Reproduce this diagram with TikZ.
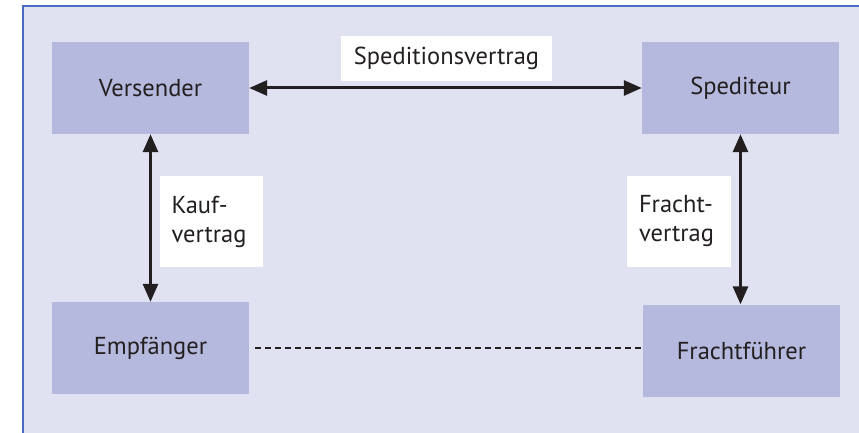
\documentclass[tikz,border=0pt]{standalone}
\usepackage{fontspec}
\setmainfont{PT Sans}
\usetikzlibrary{arrows.meta}
\definecolor{panel}{HTML}{E0E2F2}
\definecolor{boxfill}{HTML}{B6B9DE}
\definecolor{frame}{HTML}{4A6BC0}
\definecolor{ink}{HTML}{231F20}
\begin{document}
\begin{tikzpicture}[x=1pt,y=-1pt,
  party/.style={rectangle, fill=boxfill, minimum width=197pt, minimum height=92pt, inner sep=0pt, text=ink, font=\fontsize{24.5}{29}\selectfont},
  tag/.style={rectangle, fill=white, inner sep=0pt, text=ink, font=\fontsize{24.5}{29}\selectfont},
  rel/.style={draw=ink, line width=3pt, {Triangle[length=18pt,width=15pt]}-{Triangle[length=18pt,width=15pt]}},
  loose/.style={draw=ink, line width=2.3pt, dash pattern=on 5.5pt off 4.5pt}]
\useasboundingbox (0,0) rectangle (859,433);
\fill[panel] (23,6) rectangle (859,433);
\draw[frame, line width=2pt] (23,433) -- (23,6) -- (859,6);
\node[party] (V) at (150.5,88) {Versender};
\node[party] (S) at (740.5,88) {Spediteur};
\node[party] (E) at (150.5,348) {Empfänger};
\node[party] (F) at (741.5,350.5) {Frachtführer};
\draw[rel] (V.east) -- (S.west);
\draw[rel] (V.south) -- (E.north);
\draw[rel] (S.south) -- (S.south |- F.north);
\draw[loose, shorten <=6pt] (E.east) -- (E.east -| F.west);
\node[tag, minimum width=211pt, minimum height=45pt] (L1) at (446.5,58.5) {Speditionsvertrag};
\node[tag, minimum width=103pt, minimum height=91pt, text width=80pt, align=left] (L2) at (211.5,221.5) {Kauf-\\vertrag};
\node[tag, minimum width=104pt, minimum height=91pt, text width=80pt, align=left] (L3) at (679,221.5) {Fracht-\\vertrag};
\end{tikzpicture}
\end{document}
